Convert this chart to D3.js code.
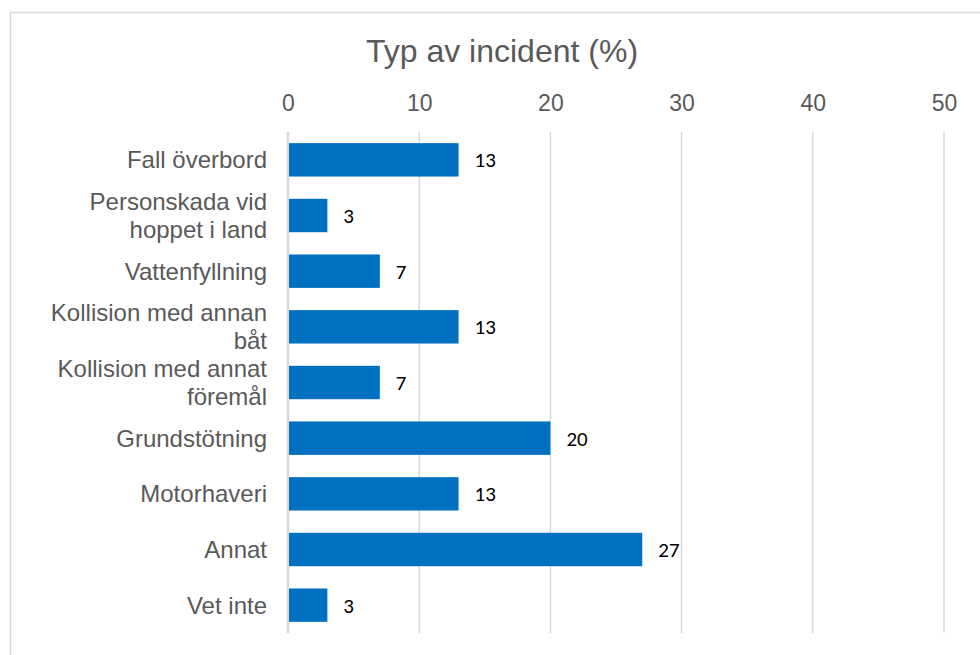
<!DOCTYPE html>
<html>
<head>
<meta charset="utf-8">
<script src="https://cdn.jsdelivr.net/npm/d3@7"></script>
<style>
  body { margin: 0; background: #fff; }
  svg { display: block; }
</style>
</head>
<body>
<div id="chart"></div>
<script>
// data
var categories = [
  ["Fall överbord"],
  ["Personskada vid", "hoppet i land"],
  ["Vattenfyllning"],
  ["Kollision med annan", "båt"],
  ["Kollision med annat", "föremål"],
  ["Grundstötning"],
  ["Motorhaveri"],
  ["Annat"],
  ["Vet inte"]
];
var values = [13, 3, 7, 13, 7, 20, 13, 27, 3];
var ticks = [0, 10, 20, 30, 40, 50];
var title = "Typ av incident (%)";

(function() {
  var W = 980, H = 655;
  var plotLeft = 288, plotRight = 944, plotTop = 132, plotBottom = 633;

  var svg = d3.select("#chart").append("svg")
    .attr("width", W)
    .attr("height", H);

  // outer chart border
  svg.append("rect")
    .attr("x", 10.5).attr("y", 12.5)
    .attr("width", W).attr("height", H)
    .attr("fill", "none")
    .attr("stroke", "#d9d9d9")
    .attr("stroke-width", 1.5);

  var x = d3.scaleLinear().domain([0, 50]).range([plotLeft, plotRight]);
  var y = d3.scaleBand()
    .domain(d3.range(categories.length))
    .range([plotTop, plotBottom])
    .paddingInner(0.4)
    .paddingOuter(0.2);

  svg.append("text")
    .attr("x", 502).attr("y", 62)
    .attr("text-anchor", "middle")
    .attr("font-family", "Liberation Sans, Arial, sans-serif")
    .attr("font-size", 32)
    .attr("fill", "#595959")
    .text(title);

  // top tick labels
  var xAxis = d3.axisTop(x).tickValues(ticks).tickSize(0).tickPadding(0);
  var gx = svg.append("g")
    .attr("transform", "translate(0,111)")
    .call(xAxis);
  gx.select(".domain").remove();
  gx.selectAll("text")
    .attr("dy", 0)
    .attr("y", 0)
    .attr("font-family", "Liberation Sans, Arial, sans-serif")
    .attr("font-size", 23)
    .attr("fill", "#595959");

  // gridlines
  svg.append("g").selectAll("line")
    .data(ticks)
    .enter().append("line")
    .attr("x1", function(d) { return x(d); })
    .attr("x2", function(d) { return x(d); })
    .attr("y1", plotTop)
    .attr("y2", plotBottom)
    .attr("stroke", "#d9d9d9")
    .attr("stroke-width", function(d) { return d == 0 ? 2.5 : 1.5; });

  // bars
  svg.append("g").selectAll("rect")
    .data(values)
    .enter().append("rect")
    .attr("x", x(0) + 1)
    .attr("y", function(d, i) { return y(i); })
    .attr("width", function(d) { return x(d) - x(0) - 1; })
    .attr("height", y.bandwidth())
    .attr("fill", "#0070c0");

  // value labels
  svg.append("g").selectAll("text")
    .data(values)
    .enter().append("text")
    .attr("x", function(d) { return x(d) + 16; })
    .attr("y", function(d, i) { return y(i) + y.bandwidth() / 2; })
    .attr("dy", "0.36em")
    .attr("font-family", "Carlito, Noto Sans, sans-serif")
    .attr("font-size", 21)
    .attr("fill", "#000")
    .text(function(d) { return d; });

  // category labels
  var lineH = 28;
  var cat = svg.append("g").selectAll("text")
    .data(categories)
    .enter().append("text")
    .attr("text-anchor", "end")
    .attr("font-family", "Liberation Sans, Arial, sans-serif")
    .attr("font-size", 24)
    .attr("fill", "#595959")
    .attr("y", function(d, i) { return y(i) + y.bandwidth() / 2 - (d.length - 1) * lineH / 2; });

  cat.selectAll("tspan")
    .data(function(d) { return d; })
    .enter().append("tspan")
    .attr("x", 267)
    .attr("dy", function(d, j) { return j == 0 ? "0.35em" : lineH; })
    .text(function(d) { return d; });
})();
</script>
</body>
</html>
